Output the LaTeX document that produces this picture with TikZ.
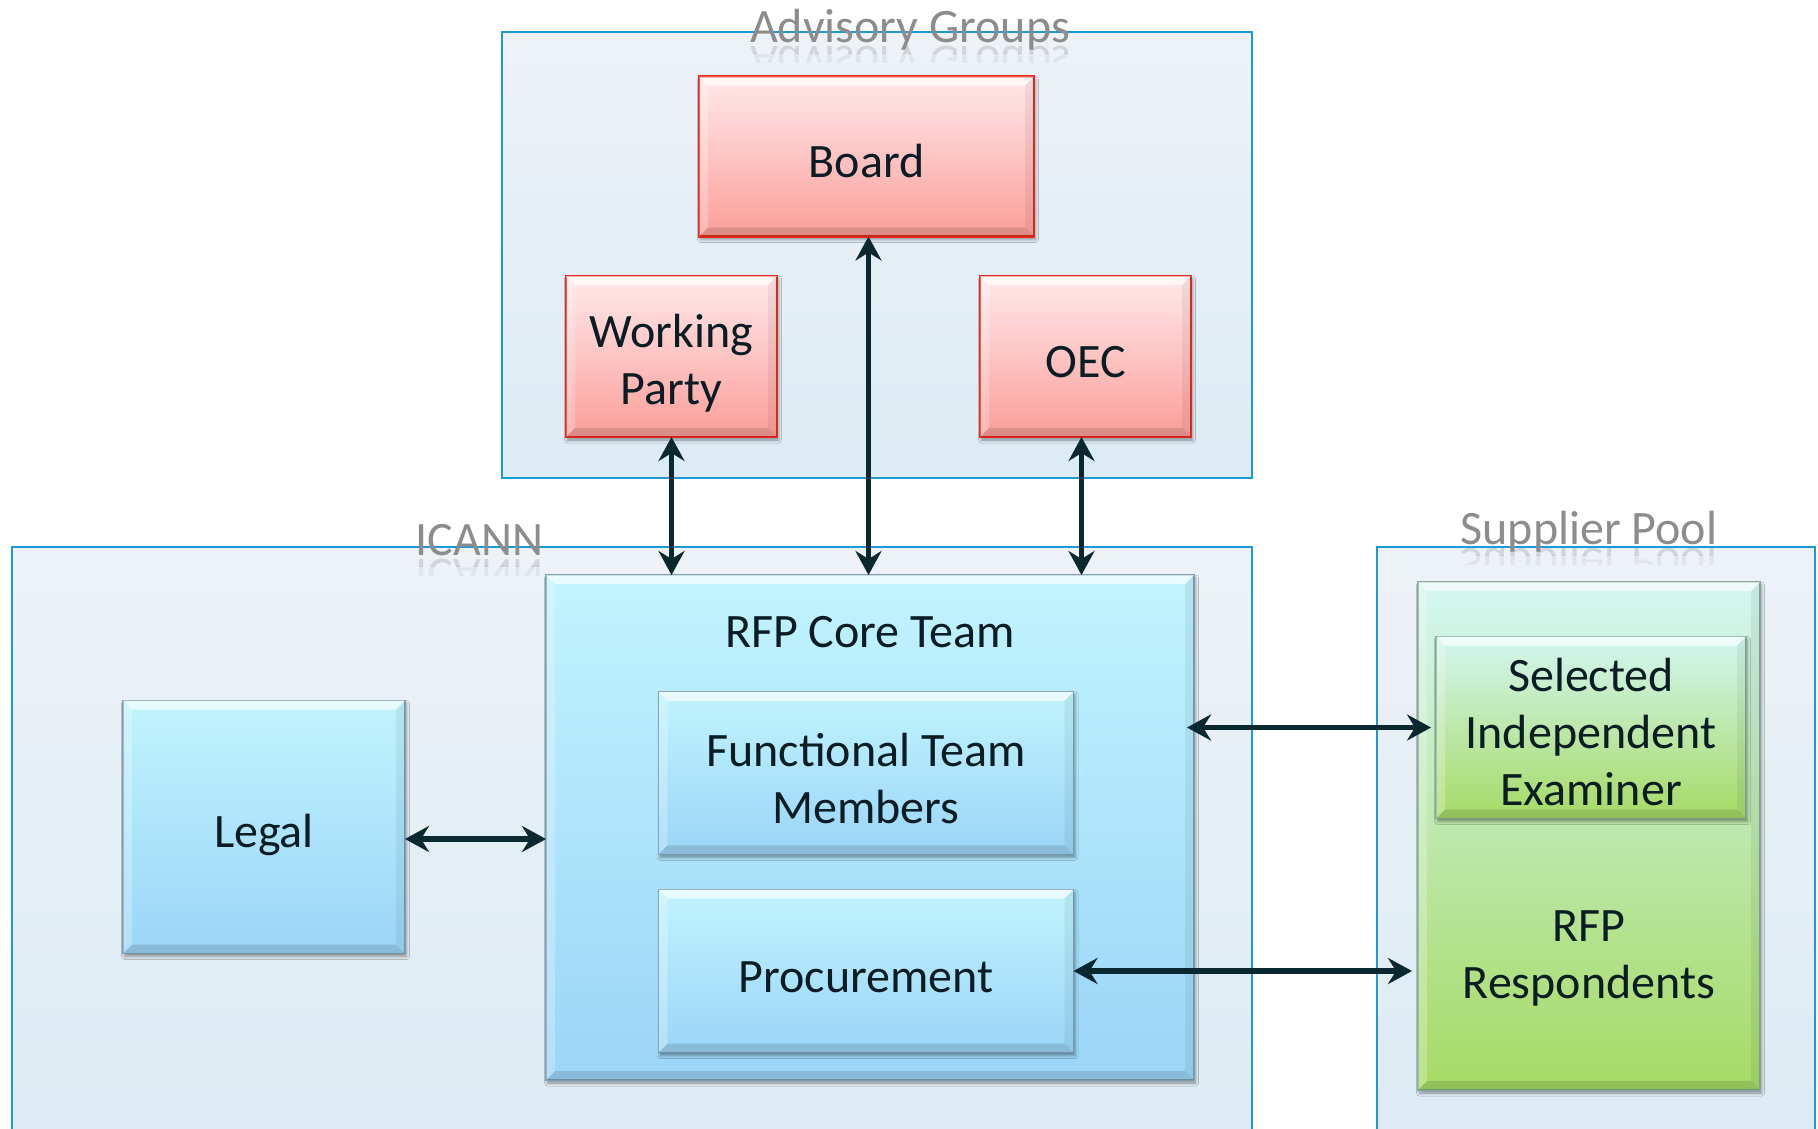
\documentclass[tikz,border=0pt]{standalone}
\usepackage{fontspec}
\setmainfont{Carlito}
\usetikzlibrary{arrows.meta,shadows.blur}
\definecolor{grpblue}{RGB}{27,154,214}
\definecolor{grptop}{RGB}{237,242,247}
\definecolor{grpbot}{RGB}{220,235,244}
\definecolor{redline}{RGB}{228,42,28}
\definecolor{redtop}{RGB}{255,233,234}
\definecolor{redbot}{RGB}{251,158,153}
\definecolor{blueline}{RGB}{125,160,178}
\definecolor{bluetop}{RGB}{192,244,253}
\definecolor{bluebot}{RGB}{155,213,248}
\definecolor{greentop}{RGB}{212,246,242}
\definecolor{greenbot}{RGB}{166,218,100}
\definecolor{greenline}{RGB}{135,170,150}
\definecolor{arrowc}{RGB}{10,40,48}
\definecolor{txtc}{RGB}{10,28,36}
\definecolor{titlec}{RGB}{140,140,140}
\newcommand\bigfont{\fontsize{48pt}{57pt}\selectfont}
\newcommand\bevel[2]{%
  \fill[white,opacity=.65] (#1.north west) -- (#1.north east) -- ([xshift=-#2pt,yshift=-#2pt]#1.north east) -- ([xshift=#2pt,yshift=-#2pt]#1.north west) -- cycle;
  \fill[white,opacity=.25] (#1.north west) -- ([xshift=#2pt,yshift=-#2pt]#1.north west) -- ([xshift=#2pt,yshift=#2pt]#1.south west) -- (#1.south west) -- cycle;
  \fill[black,opacity=.06] (#1.north east) -- ([xshift=-#2pt,yshift=-#2pt]#1.north east) -- ([xshift=-#2pt,yshift=#2pt]#1.south east) -- (#1.south east) -- cycle;
  \fill[black,opacity=.12] (#1.south west) -- ([xshift=#2pt,yshift=#2pt]#1.south west) -- ([xshift=-#2pt,yshift=#2pt]#1.south east) -- (#1.south east) -- cycle;
}
\newcommand\grouptitle[3]{%
  \node[titletext, anchor=base] (#1) at (#2) {#3};
  \begin{scope}
    \clip ([yshift=-3pt]#1.base west) rectangle ([yshift=-11pt]#1.base east);
    \node[titletext, anchor=base, opacity=.28] (#1ra) at ([yshift=-4pt]#1.base) {\scalebox{1}[-1]{#3}};
  \end{scope}
  \begin{scope}
    \clip ([yshift=-11pt]#1.base west) rectangle ([yshift=-20pt]#1.base east);
    \node[titletext, anchor=base, opacity=.12] (#1rb) at ([yshift=-4pt]#1.base) {\scalebox{1}[-1]{#3}};
  \end{scope}
}
\tikzset{
  group/.style={draw=grpblue, line width=1.8pt, top color=grptop, bottom color=grpbot, inner sep=0pt, outer sep=0pt},
  shadowed/.style={blur shadow={shadow xshift=1.5pt, shadow yshift=-3pt, shadow blur radius=3pt, shadow opacity=40}},
  boxtext/.style={font=\bigfont, text=txtc, align=center},
  redbox/.style={shadowed, draw=redline, line width=2.6pt, top color=redtop, bottom color=redbot, inner sep=0pt, outer sep=0pt},
  bluebox/.style={shadowed, draw=blueline, line width=1.3pt, top color=bluetop, bottom color=bluebot, inner sep=0pt, outer sep=0pt},
  greenbox/.style={shadowed, draw=greenline, line width=1.3pt, top color=greentop, bottom color=greenbot, inner sep=0pt, outer sep=0pt},
  plaintext/.style={boxtext, inner sep=0pt},
  titletext/.style={font=\bigfont, text=titlec, inner sep=0pt},
  biarrow/.style={draw=arrowc, line width=5.5pt,
    {Stealth[length=24pt,width=26pt,inset=8pt]}-{Stealth[length=24pt,width=26pt,inset=8pt]}}
}
\begin{document}
\begin{tikzpicture}[x=1pt,y=-1pt]
\path[use as bounding box] (0,0) rectangle (1818,1128);
\fill[white] (0,0) rectangle (1818,1128);
\begin{scope}
\clip (0,0) rectangle (1818,1128);
% group containers
\node[group, minimum width=750pt, minimum height=446pt] (adv) at (877,255) {};
\node[group, minimum width=1240pt, minimum height=593pt] (icann) at (631.8,843.5) {};
\node[group, minimum width=438pt, minimum height=593pt] (sup) at (1596,843.5) {};
\grouptitle{advt}{910,42}{Advisory Groups}
\grouptitle{icannt}{479.5,555}{ICANN}
\grouptitle{supt}{1589,544}{Supplier Pool}

% advisory boxes
\node[redbox, minimum width=335pt, minimum height=160pt] (board) at (866.5,156.5) {};
\bevel{board}{9}
\node[plaintext] (boardt) at ([yshift=-5pt]board.center) {Board};
\node[redbox, minimum width=211pt, minimum height=161pt] (wp) at (671.5,356.5) {};
\bevel{wp}{9}
\node[plaintext] (wpt) at ([yshift=-7pt]wp.center) {Working\\Party};
\node[redbox, minimum width=211pt, minimum height=161pt] (oec) at (1085.5,356.5) {};
\bevel{oec}{9}
\node[plaintext] (oect) at ([yshift=-6pt]oec.center) {OEC};

% ICANN boxes
\node[bluebox, minimum width=282pt, minimum height=253pt] (legal) at (264,827) {};
\bevel{legal}{9}
\node[plaintext] (legalt) at ([yshift=-8pt]legal.center) {Legal};
\node[bluebox, minimum width=648pt, minimum height=505pt] (core) at (870,827.5) {};
\bevel{core}{9}
\node[plaintext, anchor=base] (coret) at (870,647) {RFP Core Team};
\node[bluebox, minimum width=415pt, minimum height=162.5pt] (ftm) at (866,773) {};
\bevel{ftm}{9}
\node[plaintext] (ftmt) at ([yshift=-5pt]ftm.center) {Functional Team\\Members};
\node[bluebox, minimum width=415pt, minimum height=163pt] (proc) at (866,971) {};
\bevel{proc}{9}
\node[plaintext] (proct) at ([yshift=-6pt]proc.center) {Procurement};

% supplier boxes
\node[greenbox, minimum width=342pt, minimum height=508pt] (resp) at (1589,836) {};
\bevel{resp}{9}
\node[plaintext] (respt) at (1589,958) {RFP\\Respondents};
\node[greenbox, minimum width=310pt, minimum height=182pt] (sel) at (1591,727.5) {};
\bevel{sel}{9}
\node[plaintext] (selt) at ([yshift=-4pt]sel.center) {Selected\\Independent\\Examiner};

% connectors
\coordinate (wpb) at (wp.south);
\coordinate (bdb) at ([xshift=2pt]board.south);
\coordinate (oeb) at ([xshift=-4pt]oec.south);
\draw[biarrow] (wpb) -- (wpb |- core.north);
\draw[biarrow] (bdb) -- (bdb |- core.north);
\draw[biarrow] (oeb) -- (oeb |- core.north);
\coordinate (le) at ([yshift=-12pt]legal.east);
\draw[biarrow] (le) -- (le -| core.west);
\coordinate (ce) at ([xshift=-7pt]core.east);
\coordinate (se) at ([xshift=-5pt]sel.west);
\draw[biarrow] (ce |- se) -- (se);
\coordinate (re) at ([xshift=-6pt]resp.west);
\draw[biarrow] (proc.east) -- (proc.east -| re);
\end{scope}
\end{tikzpicture}
\end{document}
